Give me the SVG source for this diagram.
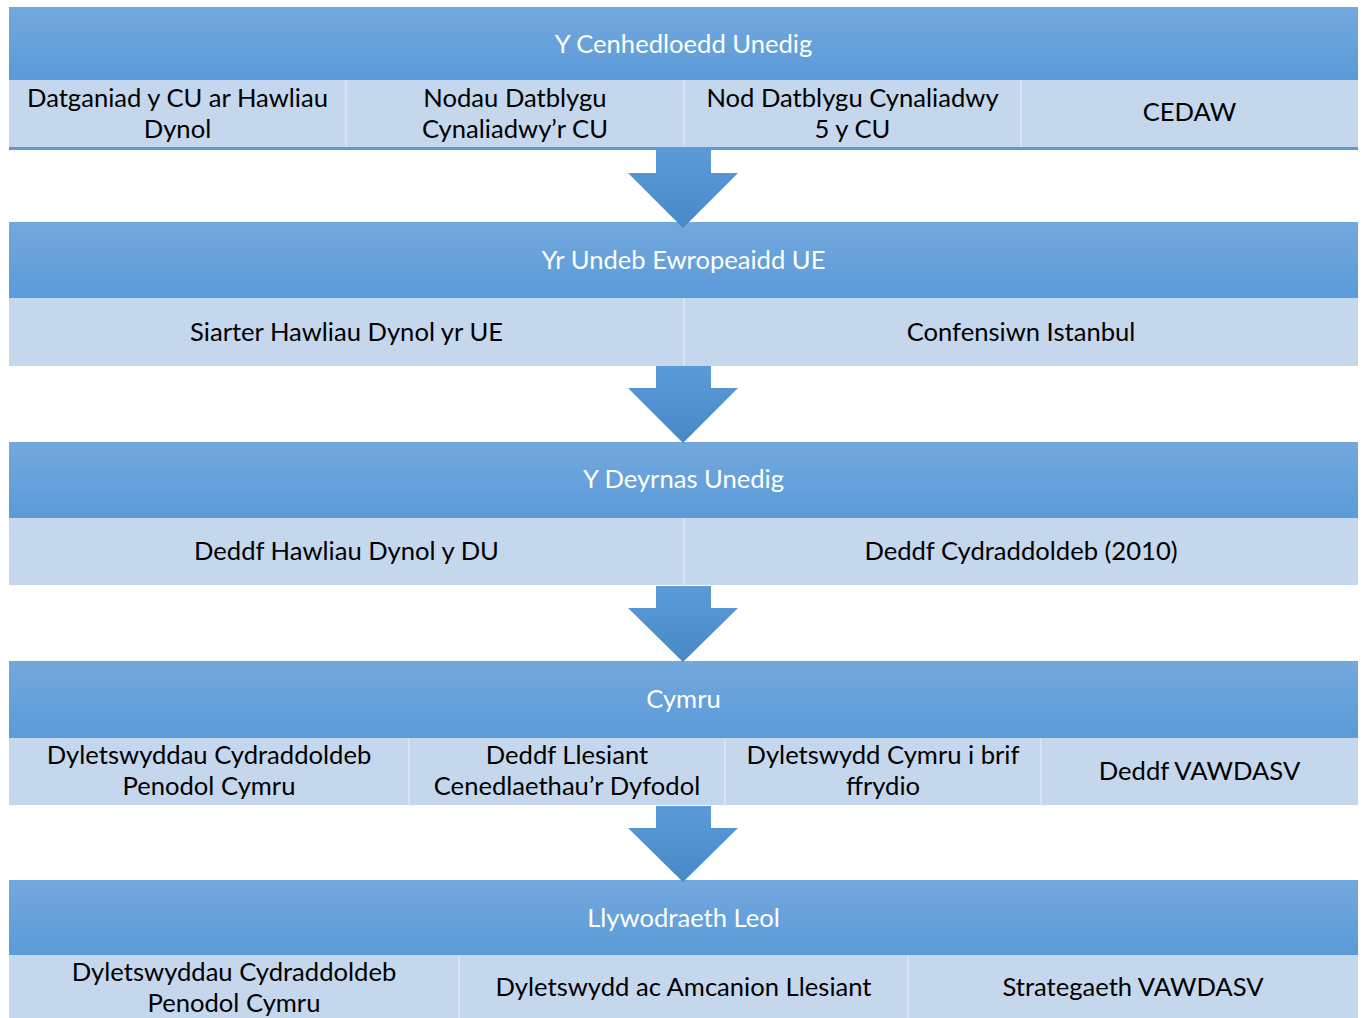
<svg xmlns="http://www.w3.org/2000/svg" width="1365" height="1018" viewBox="0 0 1365 1018">
<defs>
<linearGradient id="hg" x1="0" y1="0" x2="0" y2="1"><stop offset="0" stop-color="#74a8dd"/><stop offset="1" stop-color="#5a9bd9"/></linearGradient>
<linearGradient id="ag" x1="0" y1="0" x2="0" y2="1"><stop offset="0" stop-color="#5b9bd8"/><stop offset="1" stop-color="#4788c8"/></linearGradient>
</defs>
<style>
.h{fill:url(#hg)}
.s{fill:#c5d7ec}
.sep{stroke:#dde7f3;stroke-width:1.5}
.ht{font-family:Lato,"Open Sans",sans-serif;font-size:25.6px;fill:#ffffff;text-anchor:middle}
.t{font-family:Lato,"Open Sans",sans-serif;font-size:25.6px;fill:#000000;text-anchor:middle}
.a{fill:url(#ag)}
</style>
<rect width="1365" height="1018" fill="#ffffff"/>
<g id="un">
<rect class="h" x="9" y="7" width="1349" height="73"/>
<text class="ht" x="683.5" y="53">Y Cenhedloedd Unedig</text>
<rect class="s" x="9" y="80" width="1349" height="67"/>
<rect x="9" y="147" width="1349" height="3" fill="#5b9bd5"/>
<line class="sep" x1="346" y1="80" x2="346" y2="147"/>
<line class="sep" x1="684" y1="80" x2="684" y2="147"/>
<line class="sep" x1="1021" y1="80" x2="1021" y2="147"/>
<text class="t" x="177.5" y="107">Datganiad y CU ar Hawliau</text>
<text class="t" x="177.5" y="138">Dynol</text>
<text class="t" x="515" y="107">Nodau Datblygu</text>
<text class="t" x="515" y="138">Cynaliadwy’r CU</text>
<text class="t" x="852.5" y="107">Nod Datblygu Cynaliadwy</text>
<text class="t" x="852.5" y="138">5 y CU</text>
<text class="t" x="1189.5" y="121">CEDAW</text>
</g>
<g id="eu">
<rect class="h" x="9" y="222" width="1349" height="76"/>
<text class="ht" x="683.5" y="269">Yr Undeb Ewropeaidd UE</text>
<rect class="s" x="9" y="298" width="1349" height="68"/>
<line class="sep" x1="684" y1="298" x2="684" y2="366"/>
<text class="t" x="346.5" y="341">Siarter Hawliau Dynol yr UE</text>
<text class="t" x="1021" y="341">Confensiwn Istanbul</text>
</g>
<g id="uk">
<rect class="h" x="9" y="442" width="1349" height="76"/>
<text class="ht" x="683.5" y="488">Y Deyrnas Unedig</text>
<rect class="s" x="9" y="518" width="1349" height="67"/>
<line class="sep" x1="684" y1="518" x2="684" y2="585"/>
<text class="t" x="346.5" y="560">Deddf Hawliau Dynol y DU</text>
<text class="t" x="1021" y="560">Deddf Cydraddoldeb (2010)</text>
</g>
<g id="wales">
<rect class="h" x="9" y="661" width="1349" height="77"/>
<text class="ht" x="683.5" y="708">Cymru</text>
<rect class="s" x="9" y="738" width="1349" height="67"/>
<line class="sep" x1="409" y1="738" x2="409" y2="805"/>
<line class="sep" x1="725" y1="738" x2="725" y2="805"/>
<line class="sep" x1="1041" y1="738" x2="1041" y2="805"/>
<text class="t" x="209" y="764">Dyletswyddau Cydraddoldeb</text>
<text class="t" x="209" y="795">Penodol Cymru</text>
<text class="t" x="567" y="764">Deddf Llesiant</text>
<text class="t" x="567" y="795">Cenedlaethau’r Dyfodol</text>
<text class="t" x="883" y="764">Dyletswydd Cymru i brif</text>
<text class="t" x="883" y="795">ffrydio</text>
<text class="t" x="1199.5" y="780">Deddf VAWDASV</text>
</g>
<g id="local">
<rect class="h" x="9" y="880" width="1349" height="75"/>
<text class="ht" x="683.5" y="927">Llywodraeth Leol</text>
<rect class="s" x="9" y="955" width="1349" height="63"/>
<line class="sep" x1="459" y1="955" x2="459" y2="1018"/>
<line class="sep" x1="908" y1="955" x2="908" y2="1018"/>
<text class="t" x="234" y="981">Dyletswyddau Cydraddoldeb</text>
<text class="t" x="234" y="1012">Penodol Cymru</text>
<text class="t" x="683.5" y="996">Dyletswydd ac Amcanion Llesiant</text>
<text class="t" x="1133" y="996">Strategaeth VAWDASV</text>
</g>
<g id="connectors">
<polygon class="a" points="656,150 711,150 711,173 738,173 683,228 628,173 656,173"/>
<polygon class="a" points="656,366 711,366 711,388 738,388 683,443 628,388 656,388"/>
<polygon class="a" points="656,586 711,586 711,608 738,608 683,662 628,608 656,608"/>
<polygon class="a" points="656,806 711,806 711,828 738,828 683,882 628,828 656,828"/>
</g>
</svg>
